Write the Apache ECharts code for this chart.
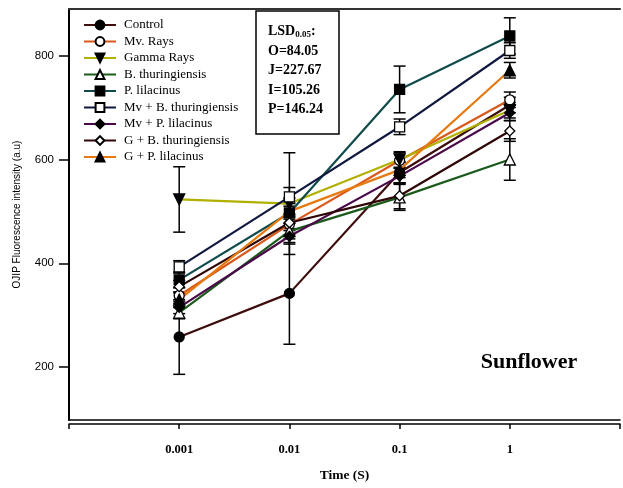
<!DOCTYPE html>
<html><head><meta charset="utf-8">
<script src="https://cdn.jsdelivr.net/npm/echarts@6/dist/echarts.min.js"></script>
<style>html,body{margin:0;padding:0;background:#fff}#c{width:623px;height:488px}</style>
</head><body><div id="c"></div>
<script>
// ---- data ----
const xPositions = [1, 2, 3, 4];
const xTickLabels = ['', '0.001', '0.01', '0.1', '1', ''];
const yTickValues = [200, 400, 600, 800];
const seriesNames = ['Control', 'Mv. Rays', 'Gamma Rays', 'B. thuringiensis', 'P. lilacinus',
  'Mv + B. thuringiensis', 'Mv + P. lilacinus', 'G + B. thuringiensis', 'G + P. lilacinus'];

const control = [258, 342, 575, 705];
const mvRays  = [338, 475, 598, 715];
const gamma   = [523, 515, 600, 695];
const bThur   = [305, 462, 527, 600];
const pLil    = [368, 497, 735, 838];
const mvB     = [393, 528, 663, 810];
const mvP     = [315, 452, 568, 690];
const gB      = [355, 478, 530, 655];
const gP      = [330, 500, 580, 772];

const controlErr = [72, 98, 20, 15];
const mvRaysErr  = [15, 20, 15, 15];
const gammaErr   = [63, 98, 15, 15];
const bThurErr   = [12, 15, 25, 40];
const pLilErr    = [15, 20, 45, 35];
const mvBErr     = [12, 18, 15, 15];
const mvPErr     = [12, 15, 15, 15];
const gBErr      = [12, 15, 25, 20];
const gPErr      = [15, 15, 15, 15];

const lsdLines = ['O=84.05', 'J=227.67', 'I=105.26', 'P=146.24'];

// ---- styles ----
const values = [control, mvRays, gamma, bThur, pLil, mvB, mvP, gB, gP];
const errors = [controlErr, mvRaysErr, gammaErr, bThurErr, pLilErr, mvBErr, mvPErr, gBErr, gPErr];
const lineColors = ['#3d0c0c', '#d9581a', '#b0b000', '#1c5a1c', '#114b4b', '#10183e', '#4a0a4a', '#2e0606', '#e57a10'];
const symbols = ['circle', 'circle', 'triangle', 'triangle', 'rect', 'rect', 'diamond', 'diamond', 'triangle'];
const filled = [true, false, true, false, true, false, true, false, true];
const rotations = [0, 0, 180, 0, 0, 0, 0, 0, 0];

const series = [];
seriesNames.forEach((name, k) => {
  series.push({
    type: 'custom', name: name + ' err', z: 2, silent: true,
    data: xPositions.map((x, i) => [x, values[k][i] - errors[k][i], values[k][i] + errors[k][i]]),
    encode: { x: 0, y: [1, 2] },
    renderItem: (params, api) => {
      const x = api.value(0);
      const p1 = api.coord([x, api.value(2)]);
      const p2 = api.coord([x, api.value(1)]);
      const w = 6, st = { stroke: '#000', lineWidth: 1.5 };
      return { type: 'group', children: [
        { type: 'line', shape: { x1: p1[0], y1: p1[1], x2: p2[0], y2: p2[1] }, style: st },
        { type: 'line', shape: { x1: p1[0] - w, y1: p1[1], x2: p1[0] + w, y2: p1[1] }, style: st },
        { type: 'line', shape: { x1: p2[0] - w, y1: p2[1], x2: p2[0] + w, y2: p2[1] }, style: st }
      ]};
    }
  });
});
seriesNames.forEach((name, k) => {
  series.push({
    type: 'line', name: name, z: 3,
    data: xPositions.map((x, i) => [x, values[k][i]]),
    symbol: symbols[k], symbolSize: symbols[k] === 'triangle' ? 11 : 10, symbolRotate: rotations[k],
    showAllSymbol: true,
    lineStyle: { color: lineColors[k], width: 2.2 },
    itemStyle: { color: filled[k] ? '#000' : '#fff', borderColor: '#000', borderWidth: 1.3 },
    emphasis: { disabled: true }
  });
});

const chart = echarts.init(document.getElementById('c'), null, { renderer: 'canvas' });
chart.setOption({
  animation: false,
  backgroundColor: '#fff',
  grid: { left: 69, right: -4, top: 9, bottom: 67 },
  legend: {
    data: seriesNames, orient: 'vertical', left: 83, top: 18, padding: 0,
    itemWidth: 32, itemHeight: 11, itemGap: 2.5,
    textStyle: { fontFamily: 'Liberation Serif', fontSize: 13, color: '#000', padding: [0, 0, 0, 3], lineHeight: 14 }
  },
  xAxis: [
    { type: 'value', min: 0, max: 5, interval: 1, position: 'bottom', offset: 4,
      axisLine: { lineStyle: { color: '#000', width: 1.5 } },
      axisTick: { length: 5, lineStyle: { color: '#000', width: 1.5 } },
      axisLabel: { formatter: v => xTickLabels[v] || '', margin: 19, fontFamily: 'Liberation Serif', fontWeight: 'bold', fontSize: 12.5, color: '#000' },
      splitLine: { show: false },
      name: 'Time (S)', nameLocation: 'middle', nameGap: 45,
      nameTextStyle: { fontFamily: 'Liberation Serif', fontWeight: 'bold', fontSize: 13.5, color: '#000' } },
    { type: 'value', min: 0, max: 5, interval: 1, position: 'bottom', offset: 0,
      axisLine: { lineStyle: { color: '#000', width: 1.5 } }, axisTick: { show: false }, axisLabel: { show: false }, splitLine: { show: false } },
    { type: 'value', min: 0, max: 5, interval: 1, position: 'top',
      axisLine: { lineStyle: { color: '#333', width: 2 } }, axisTick: { show: false }, axisLabel: { show: false }, splitLine: { show: false } }
  ],
  yAxis: {
    type: 'value', min: 98, max: 890,
    axisLine: { show: true, lineStyle: { color: '#000', width: 2 } },
    axisTick: { show: true, length: 10, customValues: yTickValues, lineStyle: { color: '#000', width: 1.5 } },
    axisLabel: { customValues: yTickValues, margin: 15, fontFamily: 'Liberation Sans', fontSize: 11.5, color: '#000' },
    splitLine: { show: false },
    name: 'OJIP Fluorescence intensity (a.u)', nameLocation: 'middle', nameGap: 47,
    nameTextStyle: { fontFamily: 'Liberation Sans', fontSize: 10, color: '#000' }
  },
  graphic: [
    { type: 'rect', shape: { x: 256, y: 11, width: 83, height: 123 }, style: { fill: '#fff', stroke: '#000', lineWidth: 1.5 }, z: 10 },
    { type: 'text', x: 268, y: 22, z: 11, style: {
        text: '{b|LSD}{s|0.05}{b|:}\n' + lsdLines.map(t => '{b|' + t + '}').join('\n'),
        rich: { b: { fontFamily: 'Liberation Serif', fontWeight: 'bold', fontSize: 14, lineHeight: 19.5, fill: '#000' },
                s: { fontFamily: 'Liberation Serif', fontWeight: 'bold', fontSize: 9, lineHeight: 19.5, fill: '#000', padding: [6, 0, 0, 0] } },
        fill: '#000' } },
    { type: 'text', x: 529, y: 362, z: 11, style: { text: 'Sunflower', fontFamily: 'Liberation Serif', fontWeight: 'bold', fontSize: 22, fill: '#000', align: 'center', verticalAlign: 'middle' } }
  ],
  series: series
});
</script></body></html>
